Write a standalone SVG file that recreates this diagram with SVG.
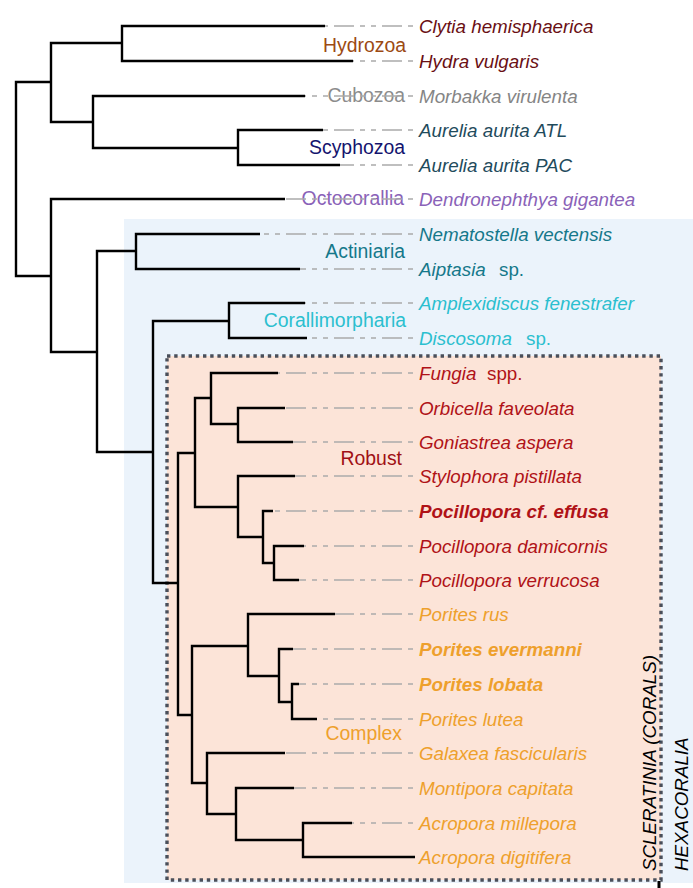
<svg xmlns="http://www.w3.org/2000/svg" width="693" height="888" viewBox="0 0 693 888">
<style>
text{font-family:"Liberation Sans",Arial,sans-serif;font-size:18.8px}
.sp{font-style:italic}
.b{font-weight:bold}
.br{fill:none;stroke:#000;stroke-width:2.4;stroke-linejoin:miter}
.dl{fill:none;stroke:#aaa;stroke-width:1.7;stroke-dasharray:5 6 20 6 5 6}
.grp{text-anchor:end;font-size:19.4px}
.c-hyd{fill:#6a0f14}.c-cub{fill:#858585}.c-scy{fill:#1f4b5c}.c-oct{fill:#8a62b8}
.c-act{fill:#15788a}.c-cor{fill:#2bbfcf}.c-rob{fill:#b01217}.c-com{fill:#eea02c}
</style>
<g id="backgrounds">
<rect x="124" y="219" width="569" height="664" fill="#ebf3fb"/>
<rect x="167" y="356" width="494" height="524" fill="#fce4d8" stroke="#4a4f5a" stroke-width="3.4" stroke-dasharray="3.4 3.8"/>
<line x1="659" y1="881" x2="659" y2="888" stroke="#000" stroke-width="3"/>
</g>
<g id="group-labels">
<text id="lbl-hydrozoa" class="grp" x="406" y="52" fill="#9c4a12">Hydrozoa</text>
<text id="lbl-cubozoa" class="grp" x="405" y="102" fill="#8c8c8c">Cubozoa</text>
<text id="lbl-scyphozoa" class="grp" x="405" y="154" fill="#14146e">Scyphozoa</text>
<text id="lbl-octocorallia" class="grp" x="404" y="205" fill="#8a62b8">Octocorallia</text>
<text id="lbl-actiniaria" class="grp" x="405" y="258" fill="#15788a">Actiniaria</text>
<text id="lbl-corallimorpharia" class="grp" x="406" y="327" fill="#2bbfcf">Corallimorpharia</text>
<text id="lbl-robust" class="grp" x="402" y="465" fill="#a01015">Robust</text>
<text id="lbl-complex" class="grp" x="402" y="740" fill="#eea02c">Complex</text>
<text id="lbl-scleratinia" class="sp" transform="translate(656,871) rotate(-90)" fill="#000">SCLERATINIA (CORALS)</text>
<text id="lbl-hexacoralia" class="sp" transform="translate(688,871) rotate(-90)" fill="#000">HEXACORALIA</text>
</g>
<g id="taxa">
<g id="t-clytia"><text class="sp c-hyd" x="419" y="32.5">Clytia hemisphaerica</text></g>
<g id="t-hydra"><text class="sp c-hyd" x="419" y="67.5">Hydra vulgaris</text></g>
<g id="t-morbakka"><text class="sp c-cub" x="419" y="102.5">Morbakka virulenta</text></g>
<g id="t-aurelia-atl"><text class="sp c-scy" x="419" y="136.5">Aurelia aurita ATL</text></g>
<g id="t-aurelia-pac"><text class="sp c-scy" x="419" y="171.5">Aurelia aurita PAC</text></g>
<g id="t-dendronephthya"><text class="sp c-oct" x="419" y="205.5">Dendronephthya gigantea</text></g>
<g id="t-nematostella"><text class="sp c-act" x="419" y="240.5">Nematostella vectensis</text></g>
<g id="t-aiptasia"><text class="c-act" x="419" y="275.5"><tspan class="sp">Aiptasia</tspan><tspan x="499">sp.</tspan></text></g>
<g id="t-amplexidiscus"><text class="sp c-cor" x="419" y="309.5">Amplexidiscus fenestrafer</text></g>
<g id="t-discosoma"><text class="c-cor" x="419" y="344.5"><tspan class="sp">Discosoma</tspan><tspan x="526">sp.</tspan></text></g>
<g id="t-fungia"><text class="c-rob" x="419" y="379.5"><tspan class="sp">Fungia</tspan><tspan x="487">spp.</tspan></text></g>
<g id="t-orbicella"><text class="sp c-rob" x="419" y="414.5">Orbicella faveolata</text></g>
<g id="t-goniastrea"><text class="sp c-rob" x="419" y="448.5">Goniastrea aspera</text></g>
<g id="t-stylophora"><text class="sp c-rob" x="419" y="482.5">Stylophora pistillata</text></g>
<g id="t-poc-effusa"><text class="sp b c-rob" x="419" y="517.5">Pocillopora cf. effusa</text></g>
<g id="t-poc-damicornis"><text class="sp c-rob" x="419" y="552.5">Pocillopora damicornis</text></g>
<g id="t-poc-verrucosa"><text class="sp c-rob" x="419" y="586.5">Pocillopora verrucosa</text></g>
<g id="t-porites-rus"><text class="sp c-com" x="419" y="620.5">Porites rus</text></g>
<g id="t-porites-evermanni"><text class="sp b c-com" x="419" y="655.5">Porites evermanni</text></g>
<g id="t-porites-lobata"><text class="sp b c-com" x="419" y="690.5">Porites lobata</text></g>
<g id="t-porites-lutea"><text class="sp c-com" x="419" y="725.5">Porites lutea</text></g>
<g id="t-galaxea"><text class="sp c-com" x="419" y="759.5">Galaxea fascicularis</text></g>
<g id="t-montipora"><text class="sp c-com" x="419" y="794.5">Montipora capitata</text></g>
<g id="t-acropora-millepora"><text class="sp c-com" x="419" y="829.5">Acropora millepora</text></g>
<g id="t-acropora-digitifera"><text class="sp c-com" x="419" y="863.5">Acropora digitifera</text></g>
</g>
<g id="connectors">
<path class="br" d="M51 82H16V276H51"/>
<path class="br" d="M122 43H51V122H93"/>
<path class="br" d="M325 26H122V61H353"/>
<path class="br" d="M305 96H93V148H238"/>
<path class="br" d="M323 130H238V165H340"/>
<path class="br" d="M285 199H51V352H97"/>
<path class="br" d="M136 251H97V452H153"/>
<path class="br" d="M260 234H136V269H300"/>
<path class="br" d="M229 321H153V583H178"/>
<path class="br" d="M305 303H229V338H307"/>
<path class="br" d="M195 453H178V715H192"/>
<path class="br" d="M211 398H195V507H238"/>
<path class="br" d="M278 373H211V424H238"/>
<path class="br" d="M285 408H238V442H293"/>
<path class="br" d="M295 476H238V537H263"/>
<path class="br" d="M273 511H263V563H274"/>
<path class="br" d="M304 546H274V580H299"/>
<path class="br" d="M248 646H192V783H207"/>
<path class="br" d="M335 614H248V676H279"/>
<path class="br" d="M293 649H279V702H292"/>
<path class="br" d="M299 684H292V719H317"/>
<path class="br" d="M285 753H207V814H236"/>
<path class="br" d="M294 788H236V840H303"/>
<path class="br" d="M352 823H303V857H415"/>
<path class="dl" d="M413 26H325M413 61H353M413 96H305M413 130H323M413 165H340M413 199H285M413 234H260M413 269H300M413 303H305M413 338H307M413 373H278M413 408H285M413 442H293M413 476H295M413 511H273M413 546H304M413 580H299M413 614H335M413 649H293M413 684H299M413 719H317M413 753H285M413 788H294M413 823H352"/>
</g>
</svg>
